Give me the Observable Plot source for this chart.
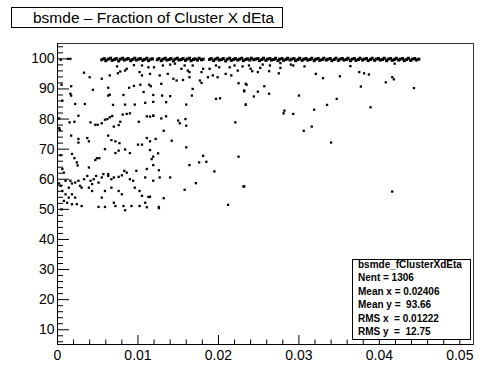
<!DOCTYPE html>
<html><head><meta charset="utf-8">
<script src="https://cdn.jsdelivr.net/npm/d3@7"></script>
<script src="https://cdn.jsdelivr.net/npm/@observablehq/plot@0.6"></script>
<style>
body{margin:0;background:#fff;}
#wrap{position:relative;width:500px;height:383px;font-family:"Liberation Sans",Arial,sans-serif;overflow:hidden;}
#title{position:absolute;left:11px;top:7px;height:19px;border:1px solid #000;background:#fff;font-size:15.5px;line-height:19px;padding:0 8px 0 21px;white-space:pre;color:#000;}
#stats{position:absolute;left:352px;top:259px;width:119px;height:81px;border:1px solid #000;background:#fff;box-sizing:border-box;color:#000;}
#statsText{position:absolute;left:5px;top:-2px;font-size:10px;font-weight:bold;line-height:13.45px;white-space:pre;}
</style></head><body><div id="wrap"></div>
<script>
const titleText = "bsmde \u2013 Fraction of Cluster X dEta";
const statsLines = ["bsmde_fClusterXdEta", "Nent = 1306", "Mean x = 0.02406", "Mean y =  93.66", "RMS x  = 0.01222", "RMS y  =  12.75"];

const xMajor = [0, 0.01, 0.02, 0.03, 0.04, 0.05];
const xLabels = ["0", "0.01", "0.02", "0.03", "0.04", "0.05"];
const xMinor = [0.002,0.004,0.006,0.008,0.012,0.014,0.016,0.018,0.022,0.024,0.026,0.028,0.032,0.034,0.036,0.038,0.042,0.044,0.046,0.048];
const yMajor = [10, 20, 30, 40, 50, 60, 70, 80, 90, 100];
const yMinor = [6,8,12,14,16,18,22,24,26,28,32,34,36,38,42,44,46,48,52,54,56,58,62,64,66,68,72,74,76,78,82,84,86,88,92,94,96,98,102,104];

// scattered entries below the dense band
const tailPoints = [
[0.0004,99.7],[0.0013,100.0],[0.0016,100.0],
[0.0033,95.4],[0.0040,93.9],[0.0055,93.4],[0.0065,94.5],[0.0075,95.2],[0.0078,95.8],[0.0084,96.1],[0.0086,96.7],[0.0074,97.5],[0.0095,97.9],[0.0105,97.8],[0.0102,95.6],[0.0105,94.5],[0.0113,97.2],
[0.0005,91.4],[0.0017,90.9],[0.0016,88.4],[0.0017,87.8],[0.0006,86.1],[0.0044,89.7],[0.0063,90.4],[0.0065,88.1],[0.0063,87.8],[0.0082,88.0],[0.0089,90.4],[0.0095,91.0],[0.0103,91.4],[0.0107,89.0],[0.0114,91.4],
[0.0022,85.0],[0.0034,85.0],[0.0069,84.7],[0.0084,84.8],[0.0096,84.8],[0.0109,85.4],[0.0119,85.7],
[0.0002,80.2],[0.0015,78.9],[0.0021,79.1],[0.0026,81.1],[0.0041,78.9],[0.0047,78.1],[0.0050,78.1],[0.0055,78.6],[0.0059,79.8],[0.0062,80.0],[0.0065,80.6],[0.0068,81.0],[0.0070,77.5],[0.0076,78.0],[0.0078,79.1],[0.0081,81.5],[0.0086,81.7],[0.0090,81.9],[0.0101,79.1],[0.0111,80.9],[0.0119,81.1],
[0.0002,77.0],[0.0003,76.4],[0.0017,74.5],[0.0026,73.4],[0.0026,72.2],[0.0037,73.7],[0.0039,72.6],[0.0063,74.5],[0.0067,73.0],[0.0072,72.6],[0.0077,72.0],
[0.0059,70.0],[0.0076,69.5],[0.0072,68.7],[0.0084,69.9],[0.0090,68.7],[0.0100,71.5],[0.0105,71.5],[0.0111,73.7],[0.0115,69.7],[0.0119,67.5],
[0.0004,68.0],[0.0018,68.4],[0.0021,67.0],[0.0024,65.6],[0.0025,64.6],[0.0047,66.4],[0.0049,67.0],[0.0052,67.0],[0.0039,63.9],[0.0006,63.4],[0.0008,62.2],
[0.0057,61.7],[0.0055,60.6],[0.0063,61.7],[0.0063,61.1],[0.0067,60.0],[0.0070,60.6],[0.0076,60.8],[0.0080,61.3],[0.0083,62.8],[0.0086,62.2],[0.0098,62.8],[0.0111,63.4],[0.0109,60.6],[0.0119,59.5],
[0.0002,58.6],[0.0004,57.8],[0.0010,59.5],[0.0016,59.5],[0.0018,58.6],[0.0022,58.9],[0.0026,59.5],[0.0028,57.8],[0.0033,60.0],[0.0037,61.1],[0.0041,59.5],[0.0043,58.4],[0.0045,60.0],[0.0048,61.1],[0.0051,58.9],
[0.0014,57.2],[0.0006,56.1],[0.0010,55.0],[0.0014,53.9],[0.0018,55.0],[0.0022,53.9],[0.0030,57.2],[0.0039,57.2],[0.0043,56.1],[0.0055,53.9],[0.0059,56.1],[0.0067,57.2],[0.0076,56.1],[0.0080,55.0],[0.0090,60.0],[0.0094,59.5],[0.0096,57.2],[0.0102,56.1],[0.0105,54.5],[0.0113,54.1],
[0.0008,52.8],[0.0012,52.2],[0.0018,51.7],[0.0024,51.7],[0.0030,51.1],[0.0051,50.8],[0.0059,50.8],[0.0070,52.2],[0.0072,51.1],[0.0082,51.1],[0.0084,49.7],[0.0092,51.1],[0.0102,51.1],[0.0109,52.2],[0.0005,50.0],[0.0111,50.7],[0.0126,50.4],
[0.0120,97.2],[0.0131,97.8],[0.0140,98.1],[0.0146,98.4],[0.0154,96.7],[0.0158,97.8],[0.0162,96.1],[0.0164,95.6],[0.0168,97.8],[0.0179,95.6],[0.0181,96.7],[0.0189,96.7],[0.0197,97.8],[0.0201,97.2],[0.0214,97.2],[0.0220,97.8],[0.0224,96.1],[0.0230,97.5],
[0.0115,95.0],[0.0127,94.5],[0.0137,95.0],[0.0144,93.4],[0.0148,92.8],[0.0156,93.0],[0.0164,93.9],[0.0177,92.8],[0.0179,92.0],[0.0187,93.9],[0.0193,94.5],[0.0199,93.9],[0.0209,95.0],[0.0216,94.5],[0.0225,91.9],[0.0234,91.7],
[0.0116,90.9],[0.0129,91.7],[0.0168,90.0],[0.0232,89.5],[0.0119,88.0],[0.0130,87.8],[0.0140,87.6],[0.0135,85.6],[0.0167,87.8],[0.0160,84.8],[0.0197,86.7],[0.0202,86.9],[0.0234,84.8],
[0.0115,80.8],[0.0119,81.1],[0.0129,80.2],[0.0135,80.9],[0.0150,79.5],[0.0152,78.6],[0.0159,80.0],[0.0160,77.8],[0.0221,78.9],[0.0132,76.1],
[0.0115,72.6],[0.0122,73.4],[0.0142,72.8],[0.0160,70.6],[0.0125,68.6],[0.0117,66.7],[0.0119,64.7],[0.0181,67.8],[0.0176,65.6],[0.0185,65.8],[0.0164,64.7],[0.0225,67.5],
[0.0195,62.6],[0.0126,63.0],[0.0127,60.6],[0.0140,60.6],[0.0172,58.7],[0.0231,57.6],[0.0158,56.5],[0.0115,54.2],[0.0132,53.7],[0.0126,50.8],[0.0212,51.5],
[0.0238,97.8],[0.0240,96.7],[0.0242,95.9],[0.0249,95.6],[0.0252,97.0],[0.0255,98.1],[0.0264,97.8],[0.0263,95.9],[0.0275,95.2],[0.0277,97.0],[0.0277,98.6],[0.0290,98.1],[0.0293,97.8],[0.0307,97.5],[0.0321,95.0],[0.0330,93.6],[0.0351,94.2],[0.0364,97.6],[0.0375,95.6],[0.0377,90.8],
[0.0235,91.4],[0.0232,89.2],[0.0249,89.1],[0.0244,87.5],[0.0257,90.9],[0.0263,88.4],[0.0234,84.8],[0.0300,87.8],[0.0282,82.8],[0.0281,81.9],[0.0293,81.7],[0.0319,83.1],[0.0335,84.7],[0.0347,86.7],[0.0306,76.1],[0.0316,77.5],[0.0340,72.2],[0.0232,57.6],
[0.0419,98.4],[0.0381,95.2],[0.0387,94.8],[0.0408,92.2],[0.0416,93.9],[0.0418,93.2],[0.0443,90.3],[0.0389,83.9],[0.0416,55.9]
];

// the dense band of entries near 100
const bandPoints = [
[0.0055,99.7],[0.0058,100.1],[0.0060,99.4],[0.0063,99.9],[0.0066,100.2],[0.0068,99.5],[0.0071,99.8],[0.0073,100.1],[0.0076,99.3],[0.0078,99.9],
[0.0081,100.2],[0.0083,99.6],[0.0086,99.9],[0.0088,100.1],[0.0091,99.4],[0.0093,99.8],[0.0096,100.2],[0.0098,99.6],[0.0101,99.9],[0.0103,100.1],
[0.0106,99.5],[0.0108,99.8],[0.0111,100.2],[0.0113,99.4],[0.0116,99.9],[0.0118,100.0],
[0.0124,99.7],[0.0126,100.1],[0.0129,99.4],[0.0131,99.9],[0.0134,100.2],[0.0136,99.6],[0.0139,99.8],[0.0141,100.1],[0.0144,99.3],[0.0146,99.9],
[0.0149,100.2],[0.0151,99.6],[0.0154,99.8],[0.0156,100.1],[0.0159,99.5],[0.0161,99.9],[0.0164,100.2],[0.0166,99.4],[0.0169,99.8],[0.0171,100.0],
[0.0174,99.6],[0.0176,100.2],[0.0179,99.7],[0.0181,99.9],
[0.0189,99.8],[0.0191,100.1],[0.0194,99.4],[0.0196,99.9],[0.0199,100.2],[0.0201,99.6],[0.0204,99.8],[0.0206,100.1],[0.0209,99.3],[0.0211,99.9],
[0.0214,100.2],[0.0216,99.5],[0.0219,99.8],[0.0221,100.1],[0.0224,99.6],[0.0226,99.9],[0.0229,100.2],[0.0231,99.4],[0.0234,99.8],[0.0236,100.0],
[0.0239,99.6],[0.0241,100.2],[0.0244,99.7],[0.0246,99.9],[0.0249,100.1],[0.0251,99.4],[0.0254,99.8],[0.0256,100.2],[0.0259,99.5],[0.0261,99.9],
[0.0264,100.1],[0.0266,99.6],[0.0269,99.8],[0.0271,100.2],[0.0274,99.4],[0.0276,99.9],[0.0279,100.1],[0.0281,99.5],[0.0284,99.8],[0.0286,100.2],
[0.0289,99.6],[0.0291,99.9],[0.0294,100.1],[0.0296,99.4],[0.0299,99.8],[0.0301,100.2],[0.0304,99.5],[0.0306,99.9],[0.0309,100.1],[0.0311,99.6],
[0.0314,99.8],[0.0316,100.2],[0.0319,99.4],[0.0321,99.9],[0.0324,100.1],[0.0326,99.5],[0.0329,99.8],[0.0331,100.2],[0.0334,99.6],[0.0336,99.9],
[0.0339,100.1],[0.0341,99.4],[0.0344,99.8],[0.0346,100.2],[0.0349,99.5],[0.0351,99.9],[0.0354,100.1],[0.0356,99.6],[0.0359,99.8],[0.0361,100.2],
[0.0364,99.4],[0.0366,99.9],[0.0369,100.1],[0.0371,99.5],[0.0374,99.8],[0.0376,100.2],[0.0379,99.6],[0.0381,99.9],[0.0384,100.1],[0.0386,99.4],
[0.0389,99.8],[0.0391,100.2],[0.0394,99.5],[0.0396,99.9],[0.0399,100.1],[0.0401,99.6],[0.0404,99.8],[0.0406,100.2],[0.0409,99.4],[0.0411,99.9],
[0.0414,100.1],[0.0416,99.5],[0.0419,99.8],[0.0421,100.2],[0.0424,99.6],[0.0426,99.9],[0.0429,100.1],[0.0431,99.4],[0.0434,99.8],[0.0436,100.2],
[0.0439,99.5],[0.0441,99.9],[0.0444,100.1],[0.0446,99.6],[0.0449,99.9]
];

const W = 500, H = 383;
const mTop = 43, mRight = 27, mBottom = 39, mLeft = 57;
const innerW = W - mLeft - mRight, innerH = H - mTop - mBottom;

const chart = Plot.plot({
  width: W, height: H,
  marginTop: mTop, marginRight: mRight, marginBottom: mBottom, marginLeft: mLeft,
  style: {fontFamily: "'Liberation Sans', Arial, sans-serif", background: "white", color: "black"},
  x: {domain: [0, 0.0517]},
  y: {domain: [5.1, 105.1]},
  marks: [
    Plot.frame({stroke: "#333", strokeWidth: 1}),
    Plot.ruleX([0], {stroke: "black"}),
    Plot.ruleY([5.1], {stroke: "black"}),
    Plot.tickX(xMajor, {x: d => d, insetTop: innerH - 9, stroke: "black"}),
    Plot.tickX(xMinor, {x: d => d, insetTop: innerH - 4.5, stroke: "black"}),
    Plot.tickY(yMajor, {y: d => d, insetRight: innerW - 12, stroke: "black"}),
    Plot.tickY(yMinor, {y: d => d, insetRight: innerW - 6, stroke: "black"}),
    Plot.axisX({ticks: xMajor, tickSize: 0, tickPadding: 6, tickFormat: d => xLabels[xMajor.indexOf(d)], fontSize: 14, label: null}),
    Plot.axisY({ticks: yMajor, tickSize: 0, tickPadding: 3, tickFormat: d => String(d), fontSize: 14, label: null}),
    Plot.dot(tailPoints, {x: d => d[0], y: d => d[1], symbol: "square", r: 1.3, fill: "black", stroke: "none"}),
    Plot.dot(bandPoints, {x: d => d[0], y: d => d[1], symbol: "square", r: 1.7, fill: "black", stroke: "none"})
  ]
});

const wrap = document.getElementById("wrap");
wrap.appendChild(chart);
const t = document.createElement("div");
t.id = "title"; t.textContent = titleText;
wrap.appendChild(t);
const s = document.createElement("div");
s.id = "stats";
const st = document.createElement("div");
st.id = "statsText"; st.textContent = statsLines.join("\n");
s.appendChild(st);
wrap.appendChild(s);
</script>
</body></html>
